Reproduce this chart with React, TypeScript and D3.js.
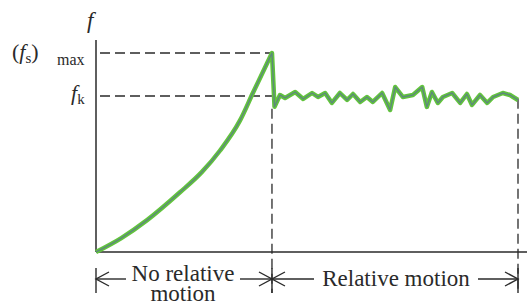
import React from "react";
import * as d3 from "d3";

// static friction build-up (time, force) before slipping
const staticT = [0, 6, 12.1, 19.9, 25, 29.4, 34.1, 37.2, 41.7];
const staticF = [0, 0.07, 0.16, 0.3, 0.4, 0.51, 0.66, 0.8, 1.0];

// kinetic friction wiggle after slipping
const kineticT = [
  42.3, 43.6, 44.8, 47.2, 49.1, 51.2, 52.6, 54.3, 55.9, 57.8, 59.5, 60.9, 62.6,
  64.2, 65.6, 67.8, 69.7, 70.9, 72.7, 75.1, 77.3, 78.4, 79.6, 81.0, 82.2, 84.4,
  86.3, 87.9, 89.1, 91.0, 92.7, 94.1, 96.4, 98.1, 100,
];
const kineticF = [
  0.73, 0.789, 0.774, 0.804, 0.769, 0.799, 0.779, 0.799, 0.749, 0.799, 0.764,
  0.794, 0.754, 0.779, 0.754, 0.799, 0.714, 0.829, 0.779, 0.789, 0.829, 0.729,
  0.804, 0.749, 0.779, 0.799, 0.749, 0.794, 0.739, 0.789, 0.749, 0.779, 0.799,
  0.789, 0.764,
];

const fsMax = 1.0;
const fk = 0.784;
const tSlip = 41.7;
const tEnd = 100;

const W = 530;
const H = 303;
const FONT = '"Liberation Serif", "Times New Roman", "DejaVu Serif", serif';
const INK = "#2a2a2a";

export default function App() {
  const x = d3.scaleLinear().domain([0, tEnd]).range([96, 518]);
  const y = d3.scaleLinear().domain([0, 1]).range([252, 53]);

  const staticPts: [number, number][] = staticT.map((t, i) => [x(t), y(staticF[i])]);
  const kineticPts: [number, number][] = kineticT.map((t, i) => [x(t), y(kineticF[i])]);

  const smooth = d3.line().curve(d3.curveMonotoneX);
  const straight = d3.line();
  const curvePath =
    (smooth(staticPts) || "") +
    (straight([staticPts[staticPts.length - 1], ...kineticPts]) || "").replace(/^M/, "L");

  const xSlip = x(tSlip);
  const xEnd = x(tEnd);
  const x0 = x(0);
  const yAxis = y(0);
  const arrowY = 279;

  const head = (px: number, dir: number) =>
    `M${px + dir * 13},${arrowY - 7} L${px},${arrowY} L${px + dir * 13},${arrowY + 7}`;

  const txt = { fontFamily: FONT, fill: INK } as React.CSSProperties;

  return (
    <svg
      width={W}
      height={H}
      style={{ position: "fixed", top: 0, left: 0, background: "#fff" }}
    >
      {/* axes */}
      <line x1={x0} y1={40} x2={x0} y2={yAxis} stroke={INK} strokeWidth={1.5} />
      <line x1={x0} y1={yAxis} x2={527} y2={yAxis} stroke={INK} strokeWidth={1.5} />

      {/* reference dashed lines */}
      <g stroke={INK} strokeWidth={1.3} strokeDasharray="10,5" fill="none">
        <line x1={x0 + 4} y1={y(fsMax)} x2={xSlip} y2={y(fsMax)} />
        <line x1={x0 + 4} y1={y(fk)} x2={xSlip} y2={y(fk)} />
        <line x1={xSlip} y1={y(0.72)} x2={xSlip} y2={293} />
        <line x1={xEnd} y1={y(0.77)} x2={xEnd} y2={293} />
      </g>

      {/* friction curve */}
      <path d={curvePath} fill="none" stroke="#62c43c" strokeWidth={4.5} strokeLinejoin="round" />
      <path d={curvePath} fill="none" stroke="#5d7f86" strokeWidth={1.4} strokeLinejoin="round" opacity={0.85} />

      {/* axis labels */}
      <text x={87} y={28} fontSize={23} fontStyle="italic" style={txt}>f</text>
      <text x={12} y={59} fontSize={22} style={txt}>
        (<tspan fontStyle="italic">f</tspan>
        <tspan fontSize={15} dy={4}>s</tspan>
        <tspan dy={-4}>)</tspan>
      </text>
      <text x={57} y={65} fontSize={16} style={txt}>max</text>
      <text x={71} y={100} fontSize={22} style={txt}>
        <tspan fontStyle="italic">f</tspan>
        <tspan fontSize={15} dy={4}>k</tspan>
      </text>

      {/* motion region markers */}
      <g stroke={INK} strokeWidth={1.4} fill="none">
        <line x1={x0} y1={268} x2={x0} y2={293} />
        <line x1={xSlip} y1={268} x2={xSlip} y2={293} />
        <line x1={xEnd} y1={268} x2={xEnd} y2={293} />
        <line x1={x0} y1={arrowY} x2={126} y2={arrowY} />
        <line x1={240} y1={arrowY} x2={xSlip} y2={arrowY} />
        <line x1={xSlip} y1={arrowY} x2={314} y2={arrowY} />
        <line x1={478} y1={arrowY} x2={xEnd} y2={arrowY} />
        <path d={head(x0, 1)} />
        <path d={head(xSlip, -1)} />
        <path d={head(xSlip, 1)} />
        <path d={head(xEnd, -1)} />
      </g>
      <text x={183} y={281} fontSize={23} textAnchor="middle" style={txt}>No relative</text>
      <text x={183} y={301} fontSize={23} textAnchor="middle" style={txt}>motion</text>
      <text x={396} y={286} fontSize={23} textAnchor="middle" style={txt}>Relative motion</text>
    </svg>
  );
}
